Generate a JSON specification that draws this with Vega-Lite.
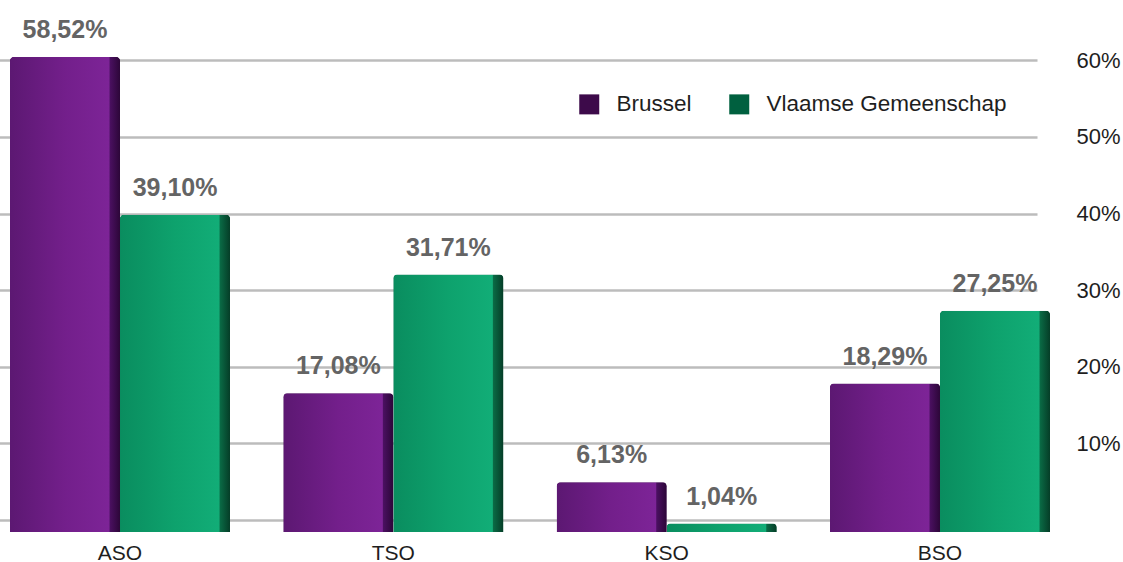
{
  "$schema": "https://vega.github.io/schema/vega-lite/v6.json",
  "width": 1047,
  "height": 487,
  "autosize": "none",
  "padding": {"left": 0, "top": 45, "right": 76, "bottom": 30},
  "background": "white",
  "config": {"view": {"stroke": null}, "font": "Liberation Sans"},
  "data": {"values": [
    {"cat": "ASO", "series": "Brussel", "value": 58.52, "label": "58,52%"},
    {"cat": "ASO", "series": "Vlaamse Gemeenschap", "value": 39.10, "label": "39,10%"},
    {"cat": "TSO", "series": "Brussel", "value": 17.08, "label": "17,08%"},
    {"cat": "TSO", "series": "Vlaamse Gemeenschap", "value": 31.71, "label": "31,71%"},
    {"cat": "KSO", "series": "Brussel", "value": 6.13, "label": "6,13%"},
    {"cat": "KSO", "series": "Vlaamse Gemeenschap", "value": 1.04, "label": "1,04%"},
    {"cat": "BSO", "series": "Brussel", "value": 18.29, "label": "18,29%"},
    {"cat": "BSO", "series": "Vlaamse Gemeenschap", "value": 27.25, "label": "27,25%"}
  ]},
  "encoding": {
    "x": {
      "field": "cat", "type": "nominal", "sort": ["ASO", "TSO", "KSO", "BSO"],
      "scale": {"range": [10, 1050], "paddingInner": 0.195, "paddingOuter": 0},
      "axis": {"orient": "bottom", "title": null, "domain": false, "ticks": false, "labelAngle": 0,
               "labelFontSize": 21, "labelColor": "#1e1e1e", "labelPadding": 10}
    },
    "xOffset": {"field": "series", "type": "nominal", "sort": ["Brussel", "Vlaamse Gemeenschap"], "scale": {"paddingInner": 0, "paddingOuter": 0}}
  },
  "layer": [
    {
      "mark": {"type": "point", "opacity": 0},
      "encoding": {
        "y": {
          "field": "value", "type": "quantitative",
          "scale": {"domain": [-1.57, 62.0], "nice": false, "zero": false},
          "axis": {"orient": "right", "title": null, "values": [0, 10, 20, 30, 40, 50, 60],
                   "labelExpr": "datum.value == 0 ? '' : datum.value + '%'",
                   "grid": true, "gridColor": "#bcbcbc", "gridWidth": 2.5,
                   "domain": false, "ticks": false, "labelAlign": "right", "labelPadding": 73,
                   "labelFontSize": 22, "labelColor": "#1e1e1e"}
        }
      }
    },
    {
      "mark": {"type": "bar", "cornerRadiusTopLeft": 4, "cornerRadiusTopRight": 4},
      "encoding": {
        "y": {"field": "value", "type": "quantitative", "scale": {"domain": [0, 60], "nice": false}, "axis": null},
        "color": {
          "field": "series", "type": "nominal",
          "scale": {"domain": ["Brussel", "Vlaamse Gemeenschap"], "range": ["#3d0a4a", "#00603f"]},
          "legend": {"orient": "none", "legendX": 578, "legendY": 48, "direction": "horizontal", "title": null,
                     "symbolType": "square", "symbolSize": 400, "symbolStrokeWidth": 0, "symbolOpacity": 1,
                     "labelFontSize": 22.5, "labelLimit": 0, "labelColor": "#1e1e1e", "labelOffset": 16, "columnPadding": 36, "padding": 0}
        }
      }
    },
    {
      "transform": [{"filter": "datum.series == 'Brussel'"}],
      "mark": {"type": "bar", "cornerRadiusTopLeft": 4, "cornerRadiusTopRight": 4,
               "fill": {"gradient": "linear", "x1": 0, "y1": 0, "x2": 1, "y2": 0,
                        "stops": [{"offset": 0, "color": "#5c1872"}, {"offset": 0.5, "color": "#731f8b"},
                                  {"offset": 0.9, "color": "#7d2497"}, {"offset": 0.91, "color": "#4a1060"},
                                  {"offset": 1, "color": "#2c0638"}]}},
      "encoding": {
        "y": {"field": "value", "type": "quantitative", "scale": {"domain": [0, 60], "nice": false}, "axis": null}
      }
    },
    {
      "transform": [{"filter": "datum.series == 'Vlaamse Gemeenschap'"}],
      "mark": {"type": "bar", "cornerRadiusTopLeft": 4, "cornerRadiusTopRight": 4,
               "fill": {"gradient": "linear", "x1": 0, "y1": 0, "x2": 1, "y2": 0,
                        "stops": [{"offset": 0, "color": "#0a8d5f"}, {"offset": 0.5, "color": "#0ea26d"},
                                  {"offset": 0.9, "color": "#12ad77"}, {"offset": 0.91, "color": "#0a6a45"},
                                  {"offset": 1, "color": "#053d27"}]}},
      "encoding": {
        "y": {"field": "value", "type": "quantitative", "scale": {"domain": [0, 60], "nice": false}, "axis": null}
      }
    },
    {
      "mark": {"type": "text", "baseline": "alphabetic", "dy": -19, "fontWeight": "bold", "fontSize": 25, "color": "#646464"},
      "encoding": {
        "y": {"field": "value", "type": "quantitative", "scale": {"domain": [0, 60], "nice": false}, "axis": null},
        "text": {"field": "label"}
      }
    }
  ],
  "resolve": {"scale": {"y": "independent"}}
}
